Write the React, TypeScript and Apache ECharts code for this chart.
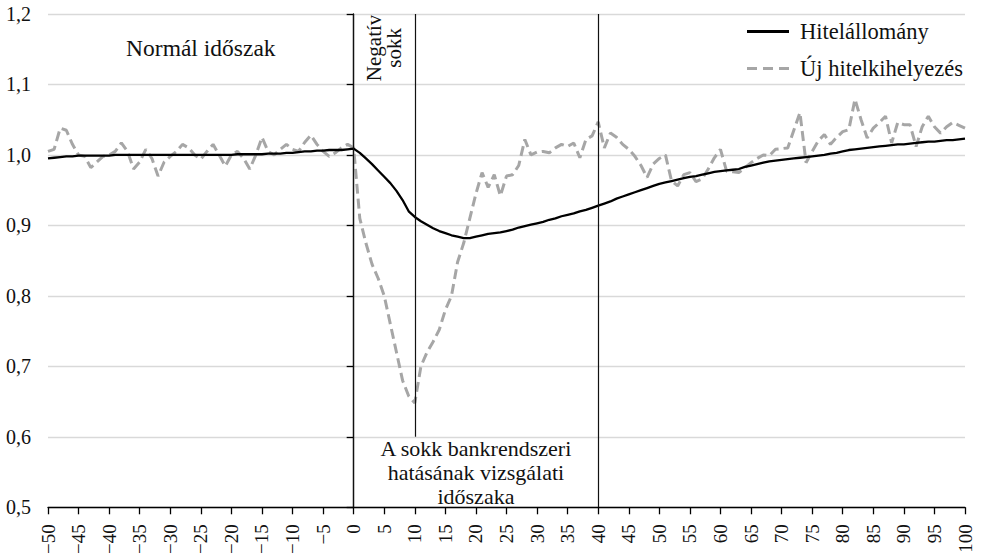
import React, { useEffect, useRef } from "react";
import * as echarts from "echarts";

const X_START = -50;
const X_END = 100;

const seriesNames = ["Hitelállomány", "Új hitelkihelyezés"];

// Hitelállomány (solid), t = -50 .. 100
const stockValues = [
  0.995, 0.996, 0.997, 0.998, 0.998, 0.999, 0.999, 0.999, 0.999, 0.999,
  0.999, 1.0, 1.0, 1.0, 1.0, 1.0, 1.0, 1.0, 1.0, 1.0,
  1.0, 1.0, 1.0, 1.0, 1.0, 1.0, 1.0, 1.0, 1.0, 1.0,
  1.0, 1.001, 1.001, 1.001, 1.001, 1.001, 1.002, 1.002, 1.002, 1.003,
  1.003, 1.004, 1.005, 1.005, 1.006, 1.006, 1.007, 1.007, 1.007, 1.008,
  1.009,
  1.003, 0.995, 0.987, 0.978, 0.969, 0.96, 0.949, 0.936, 0.92, 0.912,
  0.906, 0.901, 0.896, 0.892, 0.889, 0.886, 0.884, 0.882, 0.882, 0.884,
  0.886, 0.888, 0.889, 0.89, 0.892, 0.894, 0.897, 0.899, 0.901, 0.903,
  0.905, 0.908, 0.91, 0.913, 0.915, 0.917, 0.92, 0.922, 0.925, 0.928,
  0.931, 0.934, 0.938, 0.941, 0.944, 0.947, 0.95, 0.953, 0.956, 0.959,
  0.961, 0.963, 0.965, 0.967, 0.969, 0.97, 0.972, 0.974, 0.976, 0.977,
  0.978, 0.979, 0.98, 0.983, 0.985, 0.987, 0.989, 0.991, 0.992, 0.993,
  0.994, 0.995, 0.996, 0.997, 0.998, 0.999, 1.0, 1.002, 1.003, 1.005,
  1.007, 1.008, 1.009, 1.01, 1.011, 1.012, 1.013, 1.014, 1.015, 1.015,
  1.016, 1.017, 1.018, 1.019, 1.019, 1.02, 1.021, 1.021, 1.022, 1.023,
];

// Új hitelkihelyezés (dashed), t = -50 .. 100
const newLoanValues = [
  1.005, 1.008, 1.038, 1.035, 1.015, 1.0, 0.998, 0.982, 0.99, 0.998,
  1.0, 1.005, 1.017, 1.005, 0.98, 0.99, 1.008, 0.995, 0.97, 0.99,
  0.998, 1.005, 1.015, 1.01, 1.0, 0.994, 1.005, 1.015, 1.0, 0.984,
  1.0, 1.005, 0.995, 0.98, 1.0, 1.025, 1.005, 1.0, 1.008, 1.015,
  1.008, 1.005, 1.018, 1.028, 1.015, 1.005, 0.998, 1.003, 1.01, 1.015,
  1.01,
  0.91, 0.875, 0.845, 0.825, 0.8, 0.76, 0.72, 0.68, 0.658, 0.648,
  0.7, 0.72, 0.735, 0.752, 0.78, 0.8, 0.848, 0.875, 0.91, 0.945,
  0.975, 0.954, 0.972, 0.942, 0.97, 0.972, 0.985, 1.022, 1.0, 1.004,
  1.005, 1.003, 1.01, 1.015, 1.012, 1.017, 0.996, 1.022, 1.027, 1.047,
  1.01, 1.031, 1.025, 1.015, 1.008, 0.998, 0.985, 0.968, 0.987, 0.995,
  1.0, 0.963, 0.956, 0.972, 0.975, 0.962, 0.966, 0.98, 0.996, 1.008,
  0.977, 0.976, 0.975, 0.982, 0.989, 0.995, 1.0, 0.999, 1.008, 1.009,
  1.01, 1.035, 1.06, 0.989, 1.005, 1.02, 1.029, 1.015, 1.025, 1.033,
  1.036, 1.079, 1.05, 1.024, 1.038, 1.046, 1.055, 1.017, 1.046, 1.043,
  1.043, 1.012, 1.04, 1.055, 1.04, 1.031, 1.04, 1.046, 1.042, 1.038,
];

const periods: number[] = [];
for (let t = X_START; t <= X_END; t++) periods.push(t);

const boundaryLines = [0, 40];
const shortLine = { x: 10, from: 1.2, to: 0.6 };

const FONT = "Liberation Serif";

export default function App() {
  const ref = useRef<HTMLDivElement>(null);

  useEffect(() => {
    if (!ref.current) return;
    const chart = echarts.init(ref.current, undefined, { renderer: "svg" });

    const gridLeft = 48;
    const gridRight = 16;
    const gridTop = 14;
    const gridBottom = 48;
    const W = 981;
    const H = 557;
    const plotW = W - gridLeft - gridRight;
    const plotH = H - gridTop - gridBottom;
    const px = (t: number) => gridLeft + ((t - X_START) / (X_END - X_START)) * plotW;
    const py = (v: number) => gridTop + ((1.2 - v) / 0.7) * plotH;

    chart.setOption({
      animation: false,
      grid: { left: gridLeft, right: gridRight, top: gridTop, bottom: gridBottom },
      legend: {
        orient: "vertical",
        left: 742,
        top: 15,
        itemWidth: 42,
        itemHeight: 3,
        itemGap: 14,
        textStyle: { fontFamily: FONT, fontSize: 22.5, color: "#111", lineHeight: 22, padding: [0, 0, 0, 6] },
        data: [
          { name: seriesNames[0], icon: "path://M0,0H42V3H0Z" },
          { name: seriesNames[1], icon: "path://M0,0H10V3H0ZM16,0H26V3H16ZM32,0H42V3H32Z" },
        ],
      },
      xAxis: {
        type: "value",
        min: X_START,
        max: X_END,
        interval: 5,
        axisLine: { lineStyle: { color: "#000", width: 1.3 } },
        axisTick: { show: true, length: 7, lineStyle: { color: "#000", width: 1.3 } },
        splitLine: { show: false },
        axisLabel: {
          rotate: 90,
          margin: 17,
          fontFamily: FONT,
          fontSize: 19,
          color: "#111",
          formatter: (v: number) => String(v).replace("-", "\u2212"),
        },
      },
      yAxis: {
        type: "value",
        min: 0.5,
        max: 1.2,
        interval: 0.1,
        axisLine: { show: true, lineStyle: { color: "#000", width: 1.3 } },
        axisTick: { show: true, length: 7, lineStyle: { color: "#000", width: 1.3 } },
        splitLine: { show: true, lineStyle: { color: "#d9d9d9", width: 1.3 } },
        axisLabel: {
          margin: 17,
          fontFamily: FONT,
          fontSize: 20,
          color: "#111",
          formatter: (v: number) => v.toFixed(1).replace(".", ","),
        },
      },
      series: [
        {
          name: seriesNames[0],
          type: "line",
          symbol: "none",
          z: 3,
          lineStyle: { color: "#000", width: 2.3 },
          itemStyle: { color: "#000" },
          data: periods.map((t, i) => [t, stockValues[i]]),
          markLine: {
            silent: true,
            symbol: "none",
            label: { show: false },
            lineStyle: { color: "#111", width: 1.2, type: "solid" },
            data: [
              ...boundaryLines.map((x) => ({ xAxis: x })),
              [{ coord: [shortLine.x, shortLine.from] }, { coord: [shortLine.x, shortLine.to] }],
            ],
          },
        },
        {
          name: seriesNames[1],
          type: "line",
          symbol: "none",
          z: 2,
          lineStyle: { color: "#a6a6a6", width: 3, type: [10, 5] },
          itemStyle: { color: "#a6a6a6" },
          data: periods.map((t, i) => [t, newLoanValues[i]]),
        },
      ],
      graphic: [
        {
          type: "text",
          x: px(-25),
          y: py(1.152),
          style: {
            text: "Normál időszak",
            fontFamily: FONT,
            fontSize: 23.5,
            fill: "#111",
            align: "center",
            verticalAlign: "middle",
          },
        },
        {
          type: "text",
          x: px(5),
          y: py(1.152),
          rotation: Math.PI / 2,
          style: {
            text: "Negatív\nsokk",
            fontFamily: FONT,
            fontSize: 21,
            lineHeight: 20,
            fill: "#111",
            align: "center",
            verticalAlign: "middle",
          },
        },
        {
          type: "text",
          x: px(20),
          y: py(0.552),
          style: {
            text: "A sokk bankrendszeri\nhatásának vizsgálati\nidőszaka",
            fontFamily: FONT,
            fontSize: 22,
            lineHeight: 24,
            fill: "#111",
            align: "center",
            verticalAlign: "middle",
          },
        },
      ],
    });

    return () => chart.dispose();
  }, []);

  return (
    <div
      ref={ref}
      style={{ position: "fixed", left: 0, top: 0, width: 981, height: 557, background: "#fff" }}
    />
  );
}
